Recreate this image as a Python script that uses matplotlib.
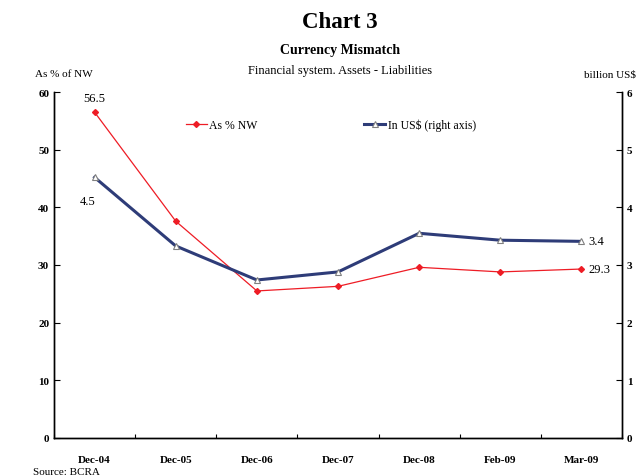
import matplotlib.pyplot as plt
import numpy as np

plt.rcParams['font.family'] = ['Liberation Serif', 'DejaVu Serif']

# datos
periodos = ["Dec-04", "Dec-05", "Dec-06", "Dec-07", "Dec-08", "Feb-09", "Mar-09"]
pct_nw = [56.5, 37.6, 25.5, 26.3, 29.6, 28.8, 29.3]
usd_bn = [4.52, 3.33, 2.74, 2.88, 3.55, 3.43, 3.41]

x = np.arange(len(periodos))

fig = plt.figure(figsize=(6.37, 4.77), dpi=100)
ax = fig.add_axes([0.0848, 0.0797, 0.8917, 0.7253])
ax2 = ax.twinx()

rojo = "#ee1c25"
azul = "#2e3c78"

l1, = ax.plot(x, pct_nw, color=rojo, lw=0.9, marker="D", ms=3,
              mfc=rojo, mec=rojo, label="As % NW", zorder=3)
l2, = ax2.plot(x, usd_bn, color=azul, lw=2.2, marker="^", ms=5,
               mfc="white", mec="#808080", mew=0.8, label="In US$ (right axis)", zorder=3)

ax.set_xlim(-0.5, len(periodos) - 0.5)
ax.set_ylim(0, 60)
ax2.set_ylim(0, 6)
ax.set_yticks(range(0, 61, 10))
ax2.set_yticks(range(0, 7))

ax.set_xticks(x)
ax.set_xticklabels(periodos, fontsize=8, fontweight="bold")
ax.set_xticks(np.arange(-0.5, len(periodos), 1), minor=True)
ax.tick_params(axis="x", which="major", length=0, pad=12)
ax.tick_params(axis="x", which="minor", direction="in", length=3, width=0.8)
ax.tick_params(axis="y", direction="in", length=4, width=0.8, labelsize=8)
ax2.tick_params(axis="y", direction="in", length=4, width=0.8, labelsize=8)
for lab in ax.get_yticklabels() + ax2.get_yticklabels():
    lab.set_fontweight("bold")

for a in (ax, ax2):
    a.spines["top"].set_visible(False)
    for s in ("left", "right", "bottom"):
        a.spines[s].set_linewidth(1.0)

# etiquetas de datos
ax.annotate("56.5", (x[0], pct_nw[0]), xytext=(0, 6), textcoords="offset points",
            ha="center", va="bottom", fontsize=9)
ax2.annotate("4.5", (x[0], usd_bn[0]), xytext=(-5, -13), textcoords="offset points",
             ha="center", va="top", fontsize=9)
ax2.annotate("3.4", (x[-1], usd_bn[-1]), xytext=(5, 0), textcoords="offset points",
             ha="left", va="center", fontsize=9)
ax.annotate("29.3", (x[-1], pct_nw[-1]), xytext=(5, 0), textcoords="offset points",
            ha="left", va="center", fontsize=9)

ax.legend(handles=[l1, l2], loc="center", bbox_to_anchor=(0.487, 0.905), ncol=2,
          frameon=False, fontsize=8.5, columnspacing=9, handlelength=1.8, handletextpad=0.2)

# titulos
fig.text(0.534, 0.952, "Chart 3", ha="center", va="center", fontsize=16.5, fontweight="bold")
fig.text(0.534, 0.895, "Currency Mismatch", ha="center", va="center", fontsize=10, fontweight="bold")
fig.text(0.534, 0.851, "Financial system. Assets - Liabilities", ha="center", va="center", fontsize=9)
fig.text(0.055, 0.843, "As % of NW", ha="left", va="center", fontsize=8)
fig.text(0.998, 0.843, "billion US$", ha="right", va="center", fontsize=8)
fig.text(0.052, 0.0, "Source: BCRA", ha="left", va="bottom", fontsize=8)

plt.savefig("out.png", dpi=100)
plt.close()
